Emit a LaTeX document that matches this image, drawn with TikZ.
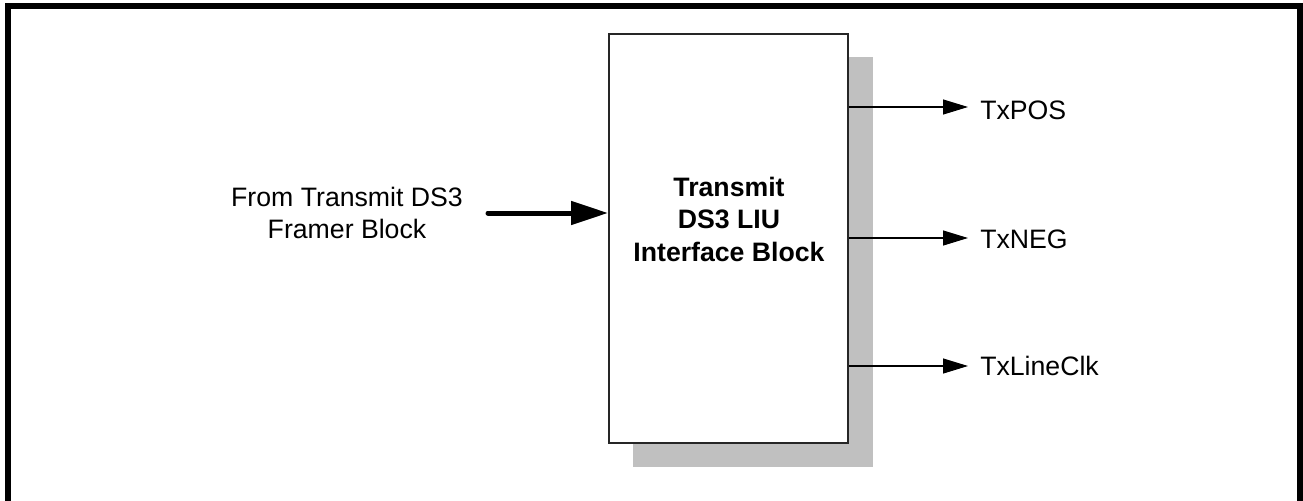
\documentclass[tikz,border=0pt]{standalone}
\usepackage{fontspec}
\setmainfont{Liberation Sans}
\usetikzlibrary{arrows.meta}

\definecolor{shadow grey}{RGB}{192,192,192}
\tikzstyle{frame}=[line width=4.5pt, miter limit=10]
\tikzstyle{block shadow}=[fill=shadow grey, minimum width=180pt, minimum height=307.5pt, inner sep=0pt]
\tikzstyle{block}=[draw=black!85, line width=1.5pt, fill=white, minimum width=179.25pt, minimum height=306.75pt, inner sep=0pt]
\tikzstyle{block text}=[font=\fontsize{20pt}{24.4pt}\selectfont\bfseries, align=center, inner sep=0pt]
\tikzstyle{label}=[font=\fontsize{20pt}{24pt}\selectfont, inner sep=0pt]
\tikzstyle{signal}=[line width=0.9pt, -{Triangle[length=18.75pt, width=11.25pt]}]
\tikzstyle{bus}=[line width=3.75pt, line cap=round, -{Triangle[length=27.75pt, width=17.25pt]}]

\begin{document}
\begin{tikzpicture}[x=0.75pt, y=-0.75pt]
					\clip (0,0) rectangle (1303,500);
					% Page frame, open at the bottom
					\draw[frame] (8,530) -- (8,6) -- (1300,6) -- (1300,530);

					% Transmit DS3 LIU Interface Block and its shadow
					\node[block shadow] (shd) at (752.5,262) {};
					\node[block] (liu) at (728.5,238.5) {};
					\node[block text] (liutxt) at (729,219) {Transmit\\DS3 LIU\\Interface Block};

					% Input from the framer
					\node[label, align=center] (from) at (347,213) {From Transmit DS3\\Framer Block};
					\coordinate (busin) at (488,213);
					\draw[bus] (busin) -- (liu.west |- busin);

					% Outputs to the line interface
					\coordinate (pos) at (968,107);
					\coordinate (neg) at (968,238);
					\coordinate (clk) at (968,366);
					\node[label, anchor=west] (posl) at (980,110) {TxPOS};
					\node[label, anchor=west] (negl) at (980,239) {TxNEG};
					\node[label, anchor=west] (clkl) at (980,366) {TxLineClk};
					\foreach \s in {pos, neg, clk}{ \draw[signal] (liu.east |- \s) -- (\s); }
				\end{tikzpicture}
\end{document}
